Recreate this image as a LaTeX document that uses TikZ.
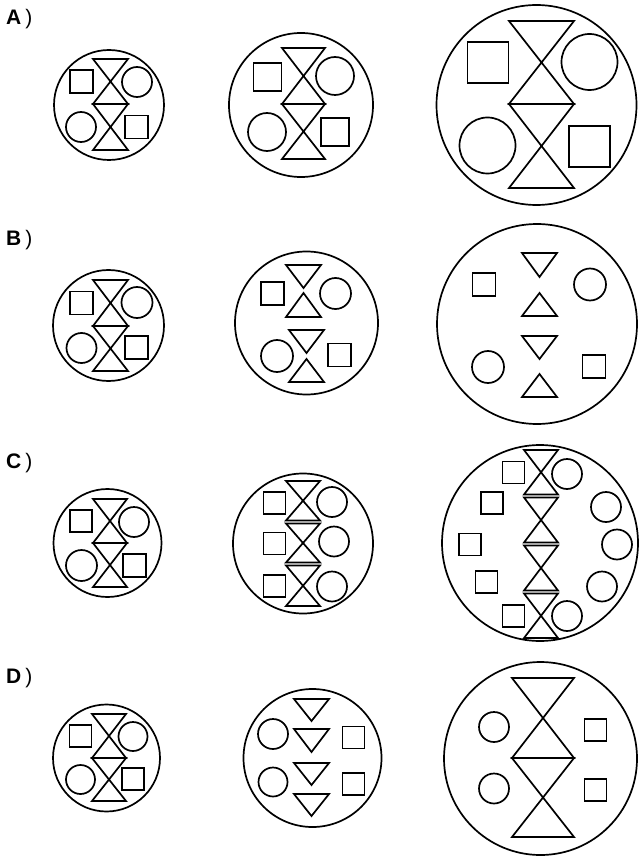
\documentclass[tikz,border=0pt]{standalone}
\usepackage{fontspec}
\setmainfont{Liberation Sans}
\newcommand\hglass[4]{\draw[shp] (#1-#4,#2) -- (#1+#4,#2) -- (#1-#4,#3) -- (#1+#4,#3) -- cycle;}
\newcommand\sqbox[3]{\draw[shp] (#1-#3/2,#2-#3/2) rectangle (#1+#3/2,#2+#3/2);}
\newcommand\ring[3]{\draw[shp] (#1,#2) circle[radius=#3pt];}
\newcommand\dtri[4]{\draw[shp] (#1-#4,#2) -- (#1+#4,#2) -- (#1,#3) -- cycle;}
\newcommand\utri[4]{\draw[shp] (#1,#2) -- (#1+#4,#3) -- (#1-#4,#3) -- cycle;}
\begin{document}
\begin{tikzpicture}[x=1pt,y=-1pt,
  shp/.style={draw=black,line width=1.7pt,line join=miter},
  lab/.style={anchor=base west,inner sep=0pt,font=\fontsize{21}{21}\selectfont}]
\fill[white] (0,0) rectangle (638,858);
\useasboundingbox (0,0) rectangle (638,858);
% labels
\node[lab] (la) at (6,25) {\textbf{A}\hspace{4pt})};
\node[lab] (lb) at (6,246) {\textbf{B}\hspace{4pt})};
\node[lab] (lc) at (6,468) {\textbf{C}\hspace{4pt})};
\node[lab] (ld) at (6,683) {\textbf{D}\hspace{4pt})};
% ---------- Row A ----------
\ring{109}{105}{55}
\hglass{110.5}{59}{104}{17.5}\hglass{110.5}{104}{150}{17.5}
\sqbox{81.5}{81.5}{23}\sqbox{136.5}{127}{23}
\ring{137}{82}{15}\ring{81}{127}{15}
%
\ring{301}{105}{72}
\hglass{303.5}{48}{104}{21.5}\hglass{303.5}{104}{159}{21.5}
\sqbox{267.5}{77}{28}\sqbox{335}{132}{28}
\ring{335}{76}{19}\ring{267}{132}{19}
%
\ring{536.5}{105}{100}
\hglass{541.5}{21}{104}{32.5}\hglass{541.5}{104}{188}{32.5}
\sqbox{488}{62.5}{41}\sqbox{589.5}{146.5}{41}
\ring{589.5}{62}{28}\ring{487.5}{145.5}{28}
% ---------- Row B ----------
\ring{108.5}{325.5}{55.5}
\hglass{110.5}{280}{326}{17.5}\hglass{110.5}{326}{371}{17.5}
\sqbox{81.5}{303}{23}\sqbox{136.5}{347.5}{23}
\ring{137}{302.5}{15.5}\ring{81.5}{348}{15}
%
\ring{306.5}{323}{71.5}
\dtri{303.5}{265}{288}{17.5}\utri{303.5}{293}{317}{17.5}
\dtri{306.5}{330}{353}{17.5}\utri{306.5}{359}{382}{17.5}
\sqbox{272.5}{293.5}{23}\sqbox{339.5}{355}{23}
\ring{335.5}{293.5}{15.5}\ring{277}{356}{16}
%
\ring{537}{324}{100}
\dtri{539.5}{253}{277}{17.5}\utri{539.5}{293}{316}{17.5}
\dtri{539.5}{336}{359}{17.5}\utri{539.5}{374}{397}{17.5}
\sqbox{484}{284.5}{23}\sqbox{594}{366.5}{23}
\ring{590}{284.5}{16}\ring{488}{367}{16}
% ---------- Row C ----------
\ring{107.5}{543}{54}
\hglass{110}{499}{543}{17}\hglass{110}{543}{587}{17}
\sqbox{81}{521}{22}\sqbox{134.5}{565.5}{23}
\ring{134}{522}{15}\ring{81.5}{565.5}{15.5}
%
\ring{303}{543.5}{70}
\hglass{303}{481}{520.5}{17}\hglass{303}{523.5}{562.5}{17}\hglass{303}{565.5}{606}{17}
\sqbox{274.5}{503}{22}\sqbox{274.5}{543.5}{22}\sqbox{274.5}{586}{22}
\ring{332}{502}{15}\ring{334}{541.5}{15}\ring{332}{586.5}{15}
%
\ring{540}{543}{98}
\hglass{541}{450}{494.5}{17}\hglass{541}{497.5}{542.5}{17}\hglass{541}{545.5}{590.5}{17}\hglass{541}{593.5}{638}{17}
\sqbox{513.5}{472.5}{22}\sqbox{492}{503}{22}\sqbox{470}{544.5}{22}\sqbox{486.5}{582}{22}\sqbox{513.5}{616}{22}
\ring{567}{474}{15}\ring{606}{507}{15}\ring{617}{544.5}{15}\ring{602}{586.5}{15}\ring{567}{616}{15}
% ---------- Row D ----------
\ring{106.5}{758}{53.5}
\hglass{109}{714}{758}{17}\hglass{109}{758}{801}{17}
\sqbox{80.5}{736}{22}\sqbox{133}{779}{22}
\ring{133}{736.5}{14.5}\ring{80.5}{779.5}{14.5}
%
\ring{312.5}{758}{69}
\dtri{311.5}{699}{721}{17.5}\dtri{311.5}{729}{752}{17.5}
\dtri{311.5}{763}{785}{17.5}\dtri{311.5}{794}{816}{17.5}
\ring{273}{734}{15}\ring{273}{782}{14.5}
\sqbox{353.5}{737.5}{22}\sqbox{353.5}{784}{22}
%
\ring{540.5}{758.5}{96.5}
\hglass{543}{678}{758}{31}\hglass{543}{758}{837}{31}
\ring{494}{727}{15}\ring{494}{788.5}{15}
\sqbox{595.5}{730}{22}\sqbox{595.5}{790}{22}
\end{tikzpicture}
\end{document}
